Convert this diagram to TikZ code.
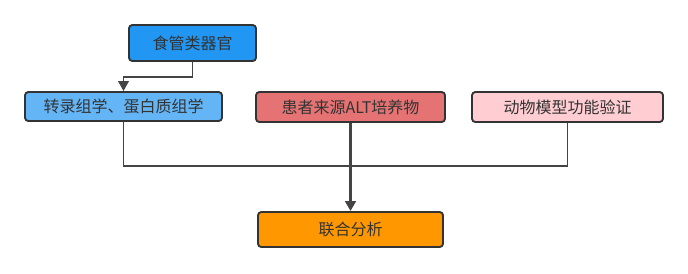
\documentclass[tikz,border=0pt]{standalone}
\usepackage{fontspec}
\setmainfont{Noto Sans CJK SC}
\usetikzlibrary{arrows.meta}
\definecolor{edge}{HTML}{333333}
\definecolor{linec}{HTML}{444444}
\definecolor{cA}{HTML}{2196F3}
\definecolor{cB}{HTML}{64B5F6}
\definecolor{cC}{HTML}{E57373}
\definecolor{cD}{HTML}{FFCDD2}
\definecolor{cE}{HTML}{FF9800}
\begin{document}
\begin{tikzpicture}[x=0.75pt,y=-0.75pt,
  box/.style={draw=edge,line width=1.4pt,rounded corners=2.5pt,inner sep=0pt,
    font=\fontsize{12pt}{14pt}\selectfont,text=edge},
  conn/.style={draw=linec,line width=1.2pt},
  tip/.style={-{Triangle[length=7.5pt,width=8pt]}}]
\useasboundingbox (0,0) rectangle (688,273);
\node[box,fill=cA,minimum width=127*0.75pt,minimum height=36*0.75pt] (a) at (192.5,43) {食管类器官};
\node[box,fill=cB,minimum width=197*0.75pt,minimum height=29*0.75pt] (b) at (123.5,106.5) {转录组学、蛋白质组学};
\node[box,fill=cC,minimum width=189*0.75pt,minimum height=30*0.75pt] (c) at (350.5,107) {患者来源ALT培养物};
\node[box,fill=cD,minimum width=191*0.75pt,minimum height=30*0.75pt] (d) at (567.5,107) {动物模型功能验证};
\node[box,fill=cE,minimum width=185*0.75pt,minimum height=35*0.75pt] (e) at (350.5,229.5) {联合分析};
\coordinate (j1) at (192.5,77);
\coordinate (j2) at (123.5,77);
\coordinate (m) at (350.5,166);
\draw[conn,tip] (a.south) -- (j1) -- (j2) -- (b.north);
\draw[conn] (b.south) |- (m);
\draw[conn] (d.south) |- (m);
\draw[conn,line width=2pt,tip] (c.south) -- (e.north);
\end{tikzpicture}
\end{document}
